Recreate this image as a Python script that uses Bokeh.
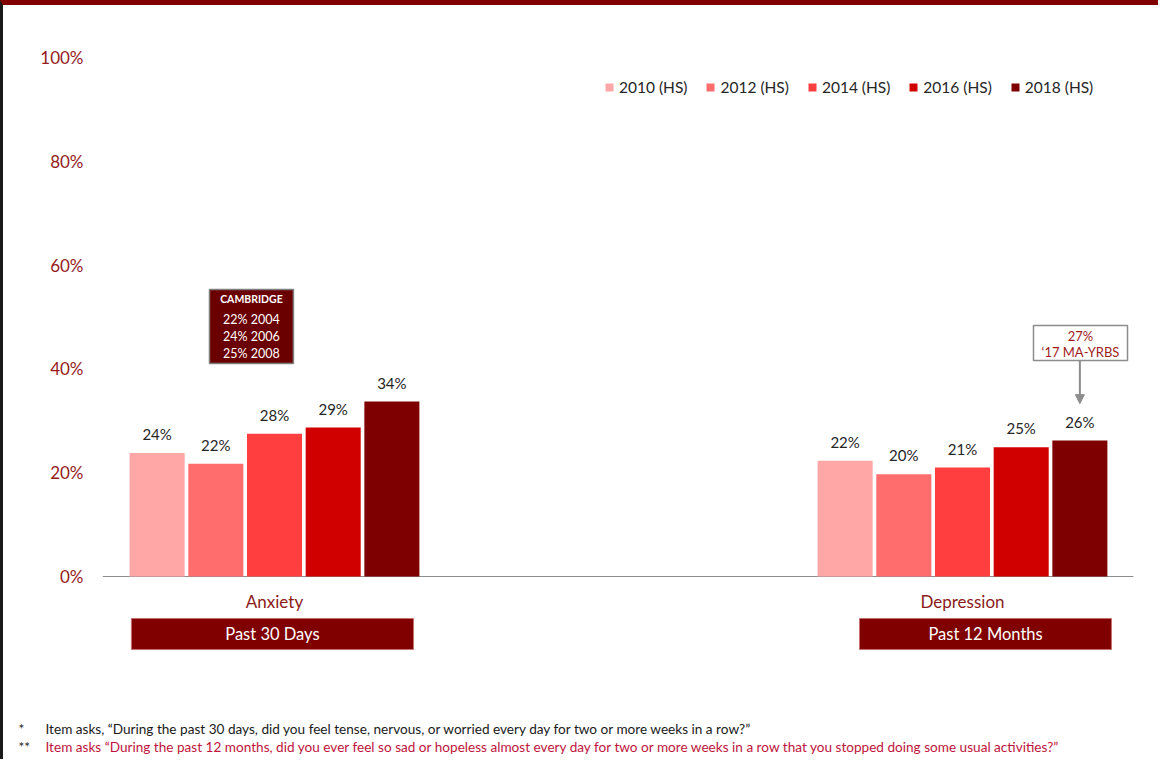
from bokeh.plotting import figure
from bokeh.layouts import column
from bokeh.models import (ColumnDataSource, Range1d, Legend, LegendItem,
                          FixedTicker, PrintfTickFormatter, Arrow, NormalHead)
from bokeh.transform import dodge
from bokeh.core.properties import value
from bokeh.embed import file_html
from bokeh.resources import INLINE

# ---------------- data ----------------
categories = ["Anxiety", "Depression"]
periods = ["Past 30 Days", "Past 12 Months"]
years = ["2010 (HS)", "2012 (HS)", "2014 (HS)", "2016 (HS)", "2018 (HS)"]
anxiety = [23.8, 21.7, 27.5, 28.7, 33.7]
depression = [22.3, 19.7, 21.0, 24.9, 26.2]
anxiety_labels = ["24%", "22%", "28%", "29%", "34%"]
depression_labels = ["22%", "20%", "21%", "25%", "26%"]
colors = ["#FFA7A7", "#FF6D6D", "#FF3F3F", "#D00000", "#7F0000"]
y_ticks = [0, 20, 40, 60, 80, 100]
cambridge_title = "CAMBRIDGE"
cambridge_lines = ["22% 2004", "24% 2006", "25% 2008"]
state_note = ["27%", "\u201817 MA-YRBS"]
footnote_marks = ["*", "**"]
footnotes = [
    "Item asks, \u201cDuring the past 30 days, did you feel tense, nervous, or worried every day for two or more weeks in a row?\u201d",
    "Item asks \u201cDuring the past 12 months, did you ever feel so sad or hopeless almost every day for two or more weeks in a row that you stopped doing some usual activities?\u201d",
]

# ---------------- layout ----------------
FONT = value("Lato")
DARK_RED = "#800000"
TICK_RED = "#951B1B"
group_x = [1.0, 3.0]
step = 0.1706
bar_w = 0.16

p = figure(width=1158, height=705, output_backend="svg", toolbar_location=None,
           x_range=Range1d(0.5, 3.5785), y_range=Range1d(-25.82, 110.02),
           x_axis_location=None, min_border_left=99, min_border_right=0,
           min_border_top=0, min_border_bottom=0)
p.frame_align = False
p.styles = {"border-top": "5px solid #800000", "border-left": "3px solid #1A1A1A"}
p.outline_line_color = None
p.xgrid.visible = False
p.ygrid.visible = False
p.background_fill_color = "white"
p.border_fill_color = "white"

# y axis
ax = p.yaxis[0]
ax.ticker = FixedTicker(ticks=y_ticks)
ax.formatter = PrintfTickFormatter(format="%d%%")
ax.axis_line_color = None
ax.major_tick_line_color = None
ax.minor_tick_line_color = None
ax.major_tick_out = 0
ax.major_tick_in = 0
ax.major_label_standoff = 19
ax.major_label_text_font = "Lato"
ax.major_label_text_font_size = "17px"
ax.major_label_text_color = TICK_RED

# baseline
p.segment(x0=[0.5], y0=[0], x1=[3.497], y1=[0], line_color="#8C8C8C", line_width=1)

items = []
for i, yr in enumerate(years):
    src = ColumnDataSource(dict(x=group_x, top=[anxiety[i], depression[i]],
                                label=[anxiety_labels[i], depression_labels[i]]))
    off = (i - 2) * step
    r = p.vbar(x=dodge("x", off), top="top", width=bar_w, bottom=0, source=src,
               fill_color=colors[i], line_color=None)
    p.text(x=dodge("x", off), y="top", text="label", source=src, text_align="center",
           text_baseline="middle", y_offset=-19, text_font=FONT,
           text_font_size="15px", text_color="#262626")
    items.append(LegendItem(label=yr, renderers=[r]))

legend = Legend(items=items, location=(502, 614), orientation="horizontal",
                glyph_width=10, glyph_height=10, label_standoff=5, spacing=18,
                padding=0, margin=0, border_line_color=None,
                background_fill_alpha=0, label_text_font="Lato",
                label_text_font_size="15.5px", label_text_color="#262626")
p.add_layout(legend)

# category labels
p.text(x=group_x, y=[-4.8, -4.8], text=categories, text_align="center",
       text_baseline="middle", text_font=FONT, text_font_size="17px",
       text_color="#8B1A1A")

# period bands
p.quad(left=[0.584, 2.7006], right=[1.404, 3.433], top=[-8.09, -8.09],
       bottom=[-14.07, -14.07], fill_color=DARK_RED, line_color="#C87070", line_width=1)
p.text(x=[0.994, 3.067], y=[-11.08, -11.08], text=periods, text_align="center",
       text_baseline="middle", text_font=FONT, text_font_size="16.5px",
       text_color="white")

# Cambridge box
p.quad(left=[0.811], right=[1.055], top=[55.3], bottom=[41.04],
       fill_color="#6A0000", line_color="#7F7F7F", line_width=1.5)
p.text(x=[0.933], y=[53.4], text=[cambridge_title], text_align="center",
       text_baseline="middle", text_font=FONT, text_font_size="10.5px",
       text_font_style="bold", text_color="white")
p.text(x=[0.933] * 3, y=[49.6, 46.3, 42.9], text=cambridge_lines, text_align="center",
       text_baseline="middle", text_font=FONT, text_font_size="12.5px",
       text_color="white")

# MA-YRBS note box + arrow
p.quad(left=[3.2064], right=[3.4797], top=[48.36], bottom=[41.62],
       fill_color="white", line_color="#8C8C8C", line_width=1.5)
p.text(x=[3.343, 3.343], y=[46.4, 43.3], text=state_note, text_align="center",
       text_baseline="middle", text_font=FONT, text_font_size="13px",
       text_color="#A01C1C")
arrow_x = group_x[1] + 2 * step
p.add_layout(Arrow(x_start=arrow_x, y_start=41.62, x_end=arrow_x, y_end=33.3,
                   line_color="#8C8C8C", line_width=2,
                   end=NormalHead(size=9, fill_color="#8C8C8C", line_color="#8C8C8C")))

# ---------------- footnotes panel ----------------
f = figure(width=1158, height=54, output_backend="svg", toolbar_location=None,
           x_range=Range1d(3, 1161), y_range=Range1d(759, 705),
           x_axis_location=None, y_axis_location=None,
           min_border_left=0, min_border_right=0, min_border_top=0, min_border_bottom=0)
f.frame_align = False
f.styles = {"border-left": "3px solid #1A1A1A"}
f.outline_line_color = None
f.xgrid.visible = False
f.ygrid.visible = False
fn_colors = ["#1A1A1A", "#C0143C"]
fn_y = [728.5, 746]
f.text(x=[18, 18], y=fn_y, text=footnote_marks, text_baseline="middle",
       text_font=FONT, text_font_size="13.6px", text_color="#1A1A1A")
f.text(x=[45, 45], y=fn_y, text=footnotes, text_baseline="middle",
       text_font=FONT, text_font_size="13.6px", text_color=fn_colors)

layout = column(p, f, spacing=0)
open("out.html", "w").write(file_html(layout, INLINE))
